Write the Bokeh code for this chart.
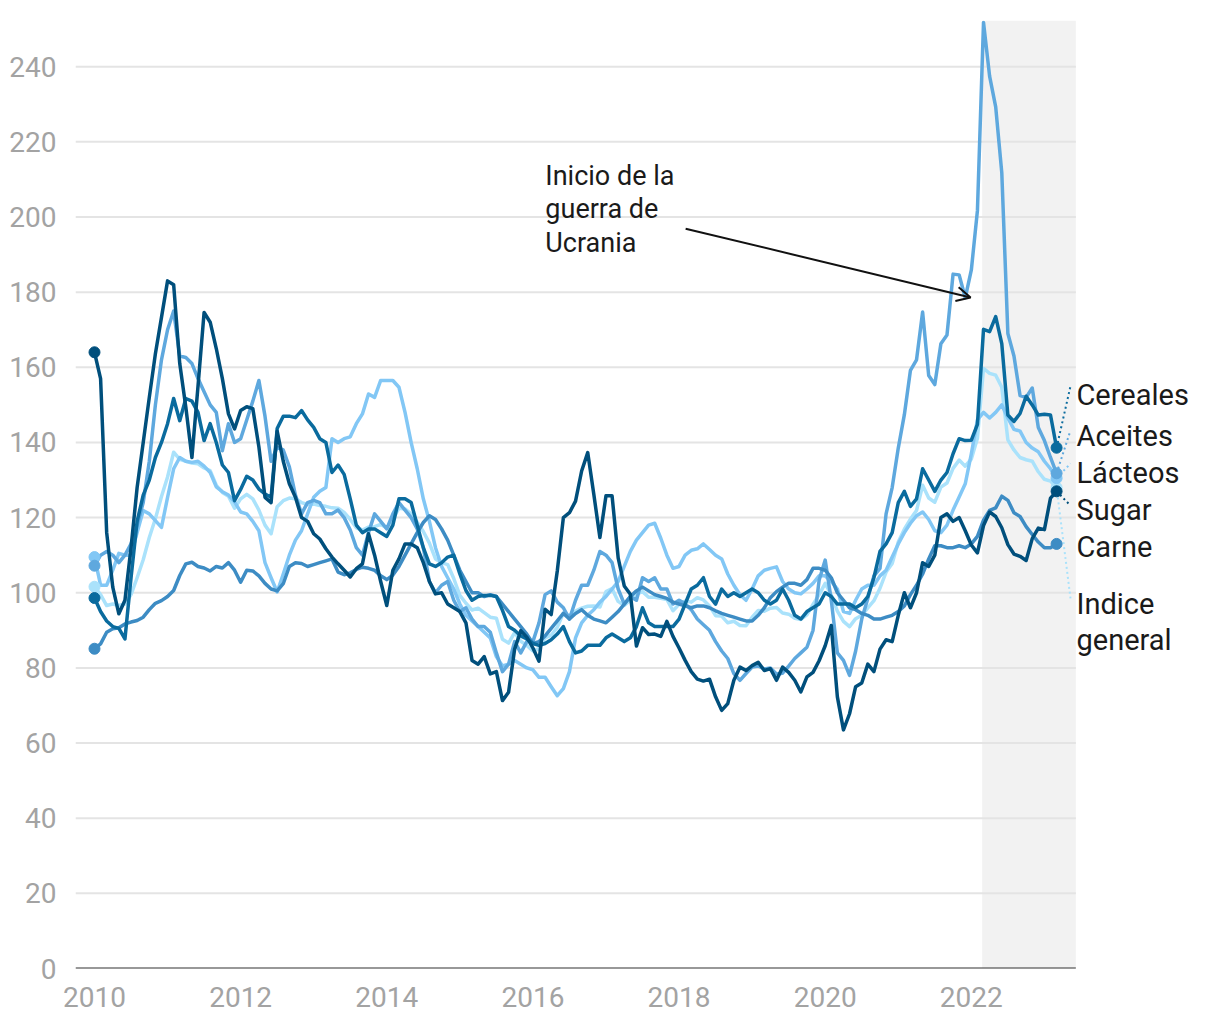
from bokeh.plotting import figure
from bokeh.models import (FixedTicker, BoxAnnotation, Label, Arrow, OpenHead,
                          ColumnDataSource)
from bokeh.embed import file_html
from bokeh.resources import INLINE

# ---------------- data (monthly, Jan 2010 - Mar 2023, 2014-2016 = 100) -------------
start_year = 2010
war_start = 2022 + 54 / 365.0  # 24 Feb 2022

indice_general = [
    101.6, 99.5, 96.6, 97.0, 96.6, 97.0, 99.5, 104.0, 108.8, 114.7, 119.7, 125.6,
    130.8, 137.4, 135.5, 135.0, 134.5, 134.3, 133.2, 132.5, 128.6, 126.7, 125.7, 122.5,
    125.0, 126.2, 125.0, 122.0, 118.0, 115.7, 122.9, 124.5, 125.2, 125.0, 124.0, 123.5,
    123.6, 123.2, 123.0, 122.6, 122.5, 121.4, 119.5, 117.3, 116.7, 117.5, 117.6, 118.2,
    117.2, 119.6, 122.5, 122.3, 121.0, 118.8, 116.3, 113.2, 109.0, 108.0, 107.5, 103.8,
    99.3, 97.2, 95.4, 95.9, 94.7, 93.5, 93.2, 87.6, 86.6, 89.4, 87.1, 86.0,
    84.5, 85.1, 88.0, 88.7, 90.8, 94.6, 93.9, 95.1, 95.9, 96.4, 96.5, 96.2,
    100.3, 101.1, 97.7, 96.6, 98.1, 99.6, 100.3, 98.8, 98.8, 98.5, 98.2, 95.2,
    96.9, 97.8, 97.5, 98.7, 98.1, 96.5, 93.9, 93.8, 92.0, 92.4, 91.3, 91.2,
    93.5, 95.3, 95.1, 95.9, 96.1, 94.6, 94.3, 93.2, 92.9, 94.1, 96.9, 99.5,
    102.5, 99.4, 95.1, 92.4, 91.0, 93.1, 94.0, 96.0, 97.9, 101.2, 105.5, 107.8,
    113.5, 116.9, 119.6, 121.9, 128.6, 125.2, 124.1, 128.1, 129.2, 133.1, 135.3, 133.7,
    135.6, 141.1, 159.7, 158.4, 157.9, 154.7, 140.7, 138.0, 136.0, 135.4, 135.0, 132.2,
    130.2, 129.7, 128.0,
]

lacteos = [
    109.5, 102.0, 102.0, 106.0, 110.5, 110.0, 110.0, 116.0, 121.9, 121.0, 119.2, 117.4,
    125.4, 133.0, 136.0, 135.0, 134.7, 135.0, 133.7, 132.0, 128.2, 126.9, 126.0, 124.2,
    121.5, 121.0, 119.0, 116.5, 108.0, 104.0, 100.2, 105.0, 110.0, 114.0, 116.5, 121.0,
    125.4, 127.0, 128.0, 141.0, 140.0, 141.0, 141.5, 145.0, 147.6, 152.9, 152.0, 156.5,
    156.5, 156.5, 154.7, 148.0, 140.0, 133.0, 125.0, 119.0, 112.0, 107.0, 104.0, 101.0,
    97.0, 94.0, 92.5, 91.0, 89.5, 88.0, 83.0, 80.5, 81.0, 82.0, 81.0, 80.0,
    79.5, 77.5, 77.5, 75.0, 72.6, 74.5, 79.0, 88.0, 92.0, 94.0, 95.5, 97.5,
    99.0, 101.0, 103.0, 107.0, 111.0, 114.0, 116.0, 118.0, 118.5, 114.5, 110.0, 106.5,
    107.0, 110.0, 111.3, 111.7, 113.0, 111.5, 110.0, 109.0, 105.0, 102.0, 99.5, 98.0,
    101.0, 104.5, 106.0, 106.5, 106.9, 103.0, 101.0, 100.0, 99.7, 101.0, 102.5, 104.5,
    104.5, 103.0, 101.0, 95.0, 94.5, 98.0, 101.0, 102.0, 102.0, 104.5, 106.0, 109.5,
    113.0, 116.0, 118.5, 120.5, 121.5, 119.5, 116.5, 116.0, 118.0, 122.0, 125.5, 129.0,
    137.0, 146.0, 148.0, 146.5, 148.0, 150.0, 146.5, 143.5, 143.0, 140.0, 138.5, 137.5,
    135.0, 133.0, 130.5,
]

aceites = [
    107.2, 110.0, 111.0, 110.0, 108.0, 110.0, 113.0, 118.0, 124.0, 135.0, 150.0, 162.0,
    170.0, 175.0, 163.0, 162.6, 161.0, 157.0, 153.5, 150.0, 148.0, 137.8, 145.0, 140.0,
    141.0, 146.0, 151.0, 156.5, 147.0, 135.0, 138.7, 138.0, 133.5, 126.0, 121.0, 124.0,
    124.6, 124.0, 121.0, 121.0, 122.0, 120.0, 116.7, 112.0, 110.0, 116.0, 121.0, 119.0,
    117.0, 121.0, 124.0, 122.0, 120.0, 117.0, 112.0, 103.0, 100.0, 102.0, 103.0, 98.0,
    95.0, 96.0, 93.0, 91.0, 91.0, 89.5, 84.0, 79.0, 81.0, 87.0, 84.0, 87.0,
    87.0, 92.0, 99.5, 100.5, 97.5, 96.0, 93.0, 98.0, 102.0, 102.0, 106.0, 111.0,
    110.0, 108.0, 101.0, 97.0, 99.0, 98.0, 104.0, 103.0, 104.0, 101.0, 101.0, 97.0,
    98.0, 97.1, 95.5, 93.0, 91.5, 90.0, 87.0, 84.5, 82.5, 78.5, 76.7, 78.5,
    80.2, 80.5, 79.7, 80.0, 78.4, 78.6, 80.5, 82.5, 84.0, 85.5, 90.0, 103.3,
    108.7, 98.0, 84.0, 82.0, 78.0, 84.5, 93.0, 98.5, 104.5, 106.5, 121.0, 128.0,
    138.5, 147.4, 159.2, 162.0, 174.7, 157.8, 155.4, 166.3, 168.6, 184.8, 184.6, 178.5,
    185.9, 201.7, 251.8, 237.5, 229.3, 211.8, 169.0, 163.0, 152.5, 152.0, 154.5, 144.0,
    140.5, 136.0, 131.8,
]

carne = [
    85.1, 86.4, 89.5, 90.4, 90.7, 91.7, 92.2, 92.6, 93.5, 95.5, 97.2, 97.9,
    99.0, 100.6, 104.6, 107.7, 108.1, 107.0, 106.6, 105.8, 107.0, 106.6, 108.0, 106.0,
    102.8, 106.0, 105.8, 104.5, 102.5, 101.0, 100.5, 102.4, 107.0, 108.0, 107.8, 107.0,
    107.5, 108.0, 108.5, 109.0, 105.5, 104.8, 105.3, 106.2, 106.8, 106.5, 106.0, 104.5,
    103.5, 104.7, 107.0, 110.0, 113.0, 116.0, 118.7, 120.5, 119.5, 117.0, 114.0, 110.0,
    106.0, 103.0, 100.0, 100.0, 99.0, 99.5, 99.0, 97.0, 95.0, 93.0, 91.0, 89.0,
    86.5, 87.0, 88.5, 90.5, 92.5, 94.5, 93.0, 94.5, 95.5, 94.0, 93.0, 92.5,
    92.0, 93.5, 95.0, 97.0, 99.0, 100.5, 101.5, 100.5, 99.5, 99.0, 98.5, 97.5,
    97.0, 96.5, 96.0, 96.5, 96.5, 96.0, 95.2, 94.5, 94.0, 93.5, 93.0, 92.5,
    92.5, 94.0, 96.0, 98.7, 100.3, 101.5, 102.5, 102.5, 102.0, 103.5, 106.5, 106.5,
    106.0, 104.0, 100.0, 98.0, 96.0, 95.5, 94.5, 94.0, 93.0, 93.0, 93.5, 94.0,
    95.0, 96.5, 99.5, 102.0, 105.0, 109.0, 112.5, 112.5, 112.0, 112.0, 112.5, 112.0,
    113.0, 115.0, 119.3, 121.9, 122.6, 125.7, 124.6, 121.3, 120.3, 117.6, 115.5, 113.5,
    112.0, 112.0, 113.0,
]

cereales = [
    98.6, 95.0, 92.5, 91.0, 90.5, 87.7, 104.0, 119.0, 126.0, 130.0, 136.0, 140.0,
    145.0, 151.7, 145.8, 151.7, 151.0, 148.0, 140.5, 145.0, 140.0, 134.0, 132.0, 124.5,
    127.5, 131.0, 130.0, 127.6, 126.3, 125.4, 143.7, 147.0, 147.0, 146.6, 148.5, 146.0,
    144.0, 141.0, 140.0, 132.0, 134.0, 131.5, 125.0, 118.0, 116.0, 117.0, 117.0, 116.0,
    115.0, 118.0, 125.0, 125.0, 124.0, 118.0, 112.0, 107.7, 107.0, 108.0, 109.5, 110.0,
    105.0, 100.6, 98.0, 99.0, 99.3, 99.3, 99.0, 95.3, 91.0, 90.0, 88.5, 87.7,
    86.5, 86.0, 86.5, 87.5, 89.0, 91.0, 87.0, 84.0, 84.5, 86.0, 86.0, 86.0,
    88.0, 89.0, 88.0, 87.0, 88.0, 91.0, 96.0, 92.0, 91.0, 91.0, 91.0, 91.0,
    93.0, 97.0, 101.0, 102.0, 104.0, 99.0, 97.0, 101.0, 99.0, 100.0, 99.0, 100.0,
    101.0, 100.0, 98.0, 97.0, 98.0, 101.0, 98.0, 94.0, 93.0, 95.0, 96.0, 97.0,
    100.0, 99.0, 97.0, 97.0, 97.0, 96.0, 97.0, 99.0, 104.0, 111.0, 113.0, 116.0,
    124.0, 127.0, 123.0, 125.0, 133.0, 130.0, 127.0, 130.0, 132.0, 137.0, 141.0, 140.5,
    140.6, 144.8, 170.1, 169.5, 173.5, 166.3, 147.3, 145.6, 147.7, 152.3, 150.0, 147.3,
    147.5, 147.3, 138.6,
]

sugar = [
    164.0, 157.0, 116.0, 101.5, 94.4, 98.0, 112.0, 128.0, 140.0, 152.0, 163.6, 173.3,
    183.0, 182.0, 161.0, 149.4, 136.0, 155.0, 174.6, 172.0, 165.0, 157.0, 147.6, 143.6,
    148.5, 149.5, 149.0, 138.8, 125.4, 124.0, 143.0, 135.0, 129.0, 125.4, 120.0, 119.0,
    115.7, 114.3, 111.7, 109.5, 107.7, 106.0, 104.2, 106.4, 107.7, 115.7, 110.0, 103.0,
    96.6, 106.0, 109.0, 113.0, 113.0, 112.0, 108.0, 103.0, 99.7, 100.0, 97.0, 96.0,
    95.0, 92.0, 82.0, 81.0, 83.0, 78.4, 79.0, 71.3, 73.5, 85.0, 89.9, 88.2,
    85.3, 81.8, 95.6, 94.2, 105.8, 120.0, 121.3, 124.4, 132.4, 137.3, 126.2, 114.7,
    125.8, 125.8, 109.3, 101.8, 99.6, 85.8, 90.7, 88.9, 89.0, 88.4, 92.4, 88.4,
    85.3, 82.0, 79.0, 77.0, 76.5, 77.0, 72.3, 68.7, 70.5, 76.7, 80.2, 79.3,
    80.6, 81.5, 79.3, 79.8, 76.7, 80.2, 78.8, 76.7, 73.6, 77.6, 78.8, 81.9,
    85.9, 91.3, 72.3, 63.5, 67.8, 75.0, 76.0, 81.0, 79.0, 85.0, 87.5, 87.0,
    94.0, 100.0, 96.0, 100.0, 108.0, 107.0, 110.0, 120.0, 121.0, 119.0, 120.0, 116.5,
    112.7, 110.6, 117.9, 121.5, 120.3, 117.3, 112.8, 110.3, 109.7, 108.6, 114.4, 117.2,
    116.8, 125.2, 127.0,
]

series_names = ["Indice general", "Lácteos", "Aceites", "Carne", "Cereales", "Sugar"]
series_values = [indice_general, lacteos, aceites, carne, cereales, sugar]
series_colors = ["#aae2fb", "#82c7f5", "#5ea8de", "#3d8cc4", "#0a6b9e", "#004f7c"]

y_ticks = [0, 20, 40, 60, 80, 100, 120, 140, 160, 180, 200, 220, 240]
x_ticks = [2010, 2012, 2014, 2016, 2018, 2020, 2022]

# label placement (value units) for the end labels and their leader lines
end_labels = ["Cereales", "Aceites", "Lácteos", "Sugar", "Carne"]
end_label_y = [152.7, 141.6, 132.0, 122.1, 112.3]
leader_y = {"Cereales": 155.0, "Aceites": 143.2, "Lácteos": 134.4,
            "Sugar": 123.2, "Indice general": 98.5}

FONT = "Roboto"

# plotting area limits (the frame is extended to the right to hold the labels)
x_left, x_right_plot = 2009.74, 2023.43
px_per_year = 73.07
fig_w, border_l = 1210, 75
x_right_frame = x_left + (fig_w - border_l) / px_per_year

n = len(sugar)
x = [start_year + i / 12.0 for i in range(n)]

p = figure(width=fig_w, height=1018, x_range=(x_left, x_right_frame), y_range=(0, 252.3),
           output_backend="svg", toolbar_location=None,
           min_border_left=border_l, min_border_right=0, min_border_top=20,
           min_border_bottom=50)
p.outline_line_color = None
p.background_fill_color = "white"
p.border_fill_color = "white"

# war band
band = BoxAnnotation(left=war_start, right=x_right_plot, fill_color="#f2f2f2",
                     fill_alpha=1.0, line_color=None, level="image")
p.add_layout(band)

# axes
p.xaxis.ticker = FixedTicker(ticks=x_ticks)
p.yaxis.ticker = FixedTicker(ticks=y_ticks)
for ax in (p.xaxis[0], p.yaxis[0]):
    ax.major_tick_line_color = None
    ax.minor_tick_line_color = None
    ax.axis_line_color = None
    ax.major_label_text_font = FONT
    ax.major_label_text_font_size = "28px"
    ax.major_label_text_color = "#a3a3a3"
p.yaxis.major_label_standoff = 13
p.xaxis.major_label_standoff = 12
p.xgrid.grid_line_color = None
p.ygrid.grid_line_color = None

# gridlines and baseline limited to the plotting area
grid_y = [t for t in y_ticks if t > 0]
p.segment(x0=[x_left] * len(grid_y), y0=grid_y, x1=[x_right_plot] * len(grid_y),
          y1=grid_y, line_color="#e4e4e4", line_width=2)
p.segment(x0=[x_left], y0=[0], x1=[x_right_plot], y1=[0], line_color="#333333",
          line_width=2)

# lines
for name, vals, col in zip(series_names, series_values, series_colors):
    src = ColumnDataSource(dict(x=x, y=vals))
    p.line("x", "y", source=src, line_color=col, line_width=3.5, line_join="round")

# leader lines (dotted)
x_end = x[-1]
x_lab = 2010 + 976 / px_per_year
for name, vals, col in zip(series_names, series_values, series_colors):
    if name in leader_y:
        p.segment(x0=[x_end], y0=[vals[-1]], x1=[x_lab], y1=[leader_y[name]],
                  line_color=col, line_width=2, line_dash="2 3")

# start / end dots
for name, vals, col in zip(series_names, series_values, series_colors):
    p.scatter([x[0], x[-1]], [vals[0], vals[-1]], size=11, fill_color=col,
              line_color=col)

# end labels
x_text = 2010 + 982 / px_per_year
label_kw = dict(text_font=FONT, text_font_size="29px", text_color="#1a1a1a",
                text_baseline="middle", text_align="left")
for name, ly in zip(end_labels, end_label_y):
    p.add_layout(Label(x=x_text, y=ly, text=name, **label_kw))
p.add_layout(Label(x=x_text, y=96.9, text="Indice", **label_kw))
p.add_layout(Label(x=x_text, y=87.3, text="general", **label_kw))

# annotation
ann_lines = ["Inicio de la", "guerra de", "Ucrania"]
ann_y = [211.0, 202.2, 193.2]
for t, yy in zip(ann_lines, ann_y):
    p.add_layout(Label(x=2016.17, y=yy, text=t, text_font=FONT,
                       text_font_size="27px", text_color="#1a1a1a",
                       text_baseline="middle"))
p.add_layout(Arrow(end=OpenHead(size=14, line_width=2, line_color="#111111"),
                   x_start=2018.09, y_start=196.9, x_end=2021.99, y_end=178.6,
                   line_color="#111111", line_width=2))

open("out.html", "w").write(file_html(p, INLINE))
